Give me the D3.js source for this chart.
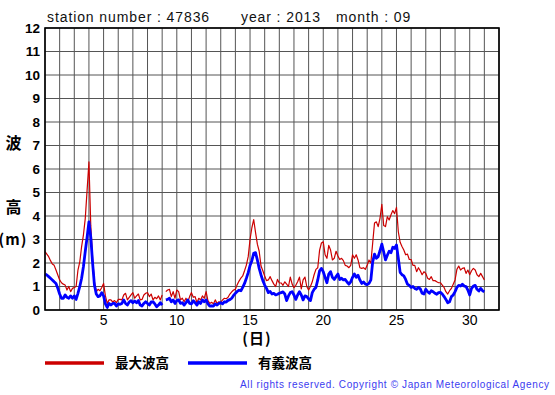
<!DOCTYPE html>
<html>
<head>
<meta charset="utf-8">
<script src="https://cdn.jsdelivr.net/npm/d3@7"></script>
<style>
body { margin: 0; background: #fff; }
svg { display: block; }
text { font-family: "Liberation Sans", Arial, sans-serif; }
.jp { font-family: "Noto Sans CJK JP", sans-serif; font-weight: bold; }
</style>
</head>
<body>
<svg id="chart" width="555" height="395"></svg>
<script>
var startDay = 1;
var stepDays = 0.125;

var maxWave = [
	2.48, 2.38, 2.27, 2.1, 1.96, 1.9, 1.7, 1.49,
	1.28, 1.16, 1.1, 1.06, 0.85, 1.0, 0.78, 0.92,
	0.96, 1.0, 1.7, 2.05, 2.7, 3.2, 3.9, 5.1,
	6.3, 3.6, 2.2, 1.2, 0.78, 0.88, 0.82, 0.96,
	1.13, 0.6, 0.28, 0.43, 0.43, 0.34, 0.4, 0.31,
	0.45, 0.45, 0.43, 0.64, 0.71, 0.43, 0.54, 0.64,
	0.74, 0.5, 0.6, 0.68, 0.43, 0.45, 0.64, 0.71,
	0.74, 0.57, 0.68, 0.43, 0.54, 0.48, 0.6, 0.43,
	0.64, null, 0.78, 0.85, 0.88, 0.57, 0.78, 0.5,
	0.85, 0.78, 0.43, 0.5, 0.35, 0.5, 0.35, 0.57,
	0.74, 0.54, 0.57, 0.31, 0.5, 0.43, 0.6, 0.5,
	0.78, 0.4, 0.28, 0.33, 0.26, 0.43, 0.28, 0.35,
	0.33, 0.43, 0.5, 0.48, 0.54, 0.68, 0.77, 0.85,
	0.88, 1.08, 1.23, 1.36, 1.45, 1.67, 1.91, 2.27,
	3.0, 3.5, 3.85, 3.3, 2.8, 2.5, 1.87, 1.67,
	1.45, 1.25, 1.28, 1.42, 1.25, 1.1, 1.0, 1.3,
	1.15, 1.15, 1.05, 1.2, 1.1, 1.0, 1.4, 1.1,
	0.95, 1.05, 1.2, 1.4, 0.9, 1.28, 1.4, 1.0,
	0.85, 1.0, 1.2, 1.5, 1.73, 1.8, 2.55, 2.85,
	2.9, 2.35, 2.2, 2.75, 2.55, 2.13, 2.2, 2.5,
	2.3, 2.15, 2.2, 2.1, 1.9, 1.87, 1.8, 1.9,
	2.35, 2.2, 2.35, 2.13, 1.8, 1.77, 1.8, 1.73,
	1.9, 2.13, 2.0, 2.85, 3.7, 3.75, 3.55, 3.9,
	4.5, 3.6, 3.55, 3.97, 3.83, 4.05, 4.23, 4.1,
	4.37, 3.33, 2.88, 2.7, 2.55, 2.35, 2.38, 2.15,
	2.15, 1.9, 1.9, 1.63, 1.8, 1.67, 1.5, 1.63,
	1.56, 1.35, 1.3, 1.42, 1.25, 1.25, 1.2, 1.16,
	1.16, 1.06, 0.96, 0.78, 0.68, 0.82, 0.92, 1.1,
	1.28, 1.73, 1.87, 1.7, 1.77, 1.8, 1.56, 1.7,
	1.5, 1.67, 1.77, 1.7, 1.5, 1.42, 1.56, 1.42,
	1.28
];

var sigWave = [
	1.53, 1.49, 1.42, 1.35, 1.28, 1.2, 1.13, 0.92,
	0.68, 0.5, 0.5, 0.64, 0.54, 0.5, 0.6, 0.5,
	0.6, 0.45, 0.71, 1.0, 1.35, 1.85, 2.5, 3.1,
	3.75, 3.1, 2.0, 1.06, 0.68, 0.57, 0.6, 0.74,
	0.6, 0.26, 0.11, 0.28, 0.21, 0.28, 0.28, 0.17,
	0.26, 0.24, 0.28, 0.43, 0.28, 0.21, 0.34, 0.4,
	0.31, 0.38, 0.31, 0.4, 0.21, 0.17, 0.28, 0.35,
	0.28, 0.21, 0.34, 0.35, 0.26, 0.14, 0.21, 0.31,
	0.21, null, 0.43, 0.45, 0.5, 0.35, 0.43, 0.28,
	0.4, 0.43, 0.28, 0.31, 0.21, 0.31, 0.43, 0.28,
	0.26, 0.4, 0.31, 0.21, 0.35, 0.28, 0.43, 0.35,
	0.43, 0.26, 0.17, 0.18, 0.17, 0.26, 0.21, 0.28,
	0.31, 0.26, 0.35, 0.34, 0.41, 0.44, 0.5, 0.62,
	0.71, 0.79, 0.84, 0.82, 0.96, 1.13, 1.35, 1.59,
	1.89, 2.1, 2.41, 2.44, 2.13, 1.77, 1.49, 1.25,
	1.06, 0.92, 0.74, 0.79, 0.68, 0.71, 0.64, 0.67,
	0.71, 0.74, 0.77, 0.68, 0.4, 0.6, 0.74, 0.78,
	0.64, 0.45, 0.64, 0.78, 0.64, 0.43, 0.6, 0.57,
	0.47, 0.4, 0.74, 0.88, 0.96, 1.28, 1.67, 1.77,
	1.63, 1.39, 1.16, 1.53, 1.63, 1.39, 1.3, 1.42,
	1.53, 1.3, 1.35, 1.28, 1.3, 1.19, 1.1, 1.2,
	1.39, 1.53, 1.39, 1.48, 1.28, 1.13, 1.19, 1.1,
	1.08, 1.13, 1.28, 2.05, 2.38, 2.2, 2.27, 2.52,
	2.8, 2.48, 2.13, 2.33, 2.5, 2.44, 2.67, 2.62,
	2.77, 2.2, 1.6, 1.5, 1.45, 1.3, 1.1, 1.05,
	0.96, 1.0, 0.92, 0.88, 0.96, 0.9, 0.71, 0.68,
	0.88, 0.78, 0.71, 0.82, 0.78, 0.71, 0.67, 0.74,
	0.75, 0.68, 0.57, 0.45, 0.31, 0.35, 0.57, 0.64,
	0.78, 0.96, 1.05, 1.02, 1.1, 1.02, 1.0, 0.85,
	0.64, 0.92, 1.02, 1.05, 0.88, 0.81, 0.92, 0.82,
	0.78
];

var yTicks = [0, 1, 2, 3, 4, 5, 6, 7, 8, 9, 10, 11, 12];
var xTicks = [5, 10, 15, 20, 25, 30];
var xGrid = d3.range(1, 33);

var svg = d3.select('#chart');

var x = d3.scaleLinear().domain([1, 32]).range([45, 499]);
var y = d3.scaleLinear().domain([0, 12]).range([310, 28]);

svg.append('rect').attr('width', 555).attr('height', 395).attr('fill', '#fff');

// header
var head = svg.append('g').style('font-size', '14px').style('letter-spacing', '0.9px').attr('fill', '#111');
head.append('text').attr('x', 47).attr('y', 22).text('station number : 47836');
head.append('text').attr('x', 241).attr('y', 22).text('year : 2013');
head.append('text').attr('x', 336).attr('y', 22).text('month : 09');

// grid
var grid = svg.append('g').attr('stroke', '#555').attr('stroke-width', 1);
grid.selectAll('line.v')
	.data(xGrid)
	.enter()
	.append('line')
	.attr('x1', function(d) { return x(d); })
	.attr('x2', function(d) { return x(d); })
	.attr('y1', y(0))
	.attr('y2', y(12));
grid.selectAll('line.h')
	.data(yTicks)
	.enter()
	.append('line')
	.attr('x1', x(1))
	.attr('x2', x(32))
	.attr('y1', function(d) { return y(d); })
	.attr('y2', function(d) { return y(d); });

// y axis labels
svg.append('g')
	.selectAll('text')
	.data(yTicks)
	.enter()
	.append('text')
	.attr('x', 40)
	.attr('y', function(d) { return y(d); })
	.attr('dy', '0.36em')
	.attr('text-anchor', 'end')
	.style('font-size', '13.5px')
	.style('font-weight', 'bold')
	.text(function(d) { return d; });

// x axis labels
svg.append('g')
	.selectAll('text')
	.data(xTicks)
	.enter()
	.append('text')
	.attr('x', function(d) { return x(d); })
	.attr('y', 325)
	.attr('text-anchor', 'middle')
	.style('font-size', '14px')
	.text(function(d) { return d; });

svg.append('text').attr('class', 'jp').attr('x', 13.5).attr('y', 149).attr('text-anchor', 'middle').style('font-size', '16px').text('波');
svg.append('text').attr('class', 'jp').attr('x', 13.5).attr('y', 213).attr('text-anchor', 'middle').style('font-size', '16px').text('高');
svg.append('text').attr('class', 'jp').attr('x', 13).attr('y', 245).attr('text-anchor', 'middle').style('font-size', '15px').style('letter-spacing', '1px').text('(m)');
svg.append('text').attr('class', 'jp').attr('x', 257).attr('y', 344).attr('text-anchor', 'middle').style('font-size', '15px').style('letter-spacing', '1px').text('(日)');

// series
var line = d3.line()
	.defined(function(d) { return d != null; })
	.x(function(d, i) { return x(startDay + i * stepDays); })
	.y(function(d) { return y(d); });

svg.append('path')
	.datum(maxWave)
	.attr('d', line)
	.attr('fill', 'none')
	.attr('stroke', '#cc0000')
	.attr('stroke-width', 1.2)
	.attr('stroke-linejoin', 'round');

svg.append('path')
	.datum(sigWave)
	.attr('d', line)
	.attr('fill', 'none')
	.attr('stroke', '#0000ff')
	.attr('stroke-width', 2.8)
	.attr('stroke-linejoin', 'round');

// frame
svg.append('rect')
	.attr('x', x(1))
	.attr('y', y(12))
	.attr('width', x(32) - x(1))
	.attr('height', y(0) - y(12))
	.attr('fill', 'none')
	.attr('stroke', '#000')
	.attr('stroke-width', 1.6);

// legend
var legend = [
	{ name: '最大波高', colour: '#cc0000', x: 45 },
	{ name: '有義波高', colour: '#0000ff', x: 188 }
];
var lg = svg.append('g').selectAll('g').data(legend).enter().append('g');
lg.append('line')
	.attr('x1', function(d) { return d.x; })
	.attr('x2', function(d) { return d.x + 59; })
	.attr('y1', 363)
	.attr('y2', 363)
	.attr('stroke', function(d) { return d.colour; })
	.attr('stroke-width', 3.5);
lg.append('text')
	.attr('class', 'jp')
	.attr('x', function(d) { return d.x + 70; })
	.attr('y', 368)
	.style('font-size', '13.5px')
	.text(function(d) { return d.name; });

svg.append('text')
	.attr('x', 240)
	.attr('y', 388)
	.attr('textLength', 309)
	.attr('fill', '#3b3bf0')
	.style('font-size', '10px')
	.text('All rights reserved. Copyright © Japan Meteorological Agency');
</script>
</body>
</html>
